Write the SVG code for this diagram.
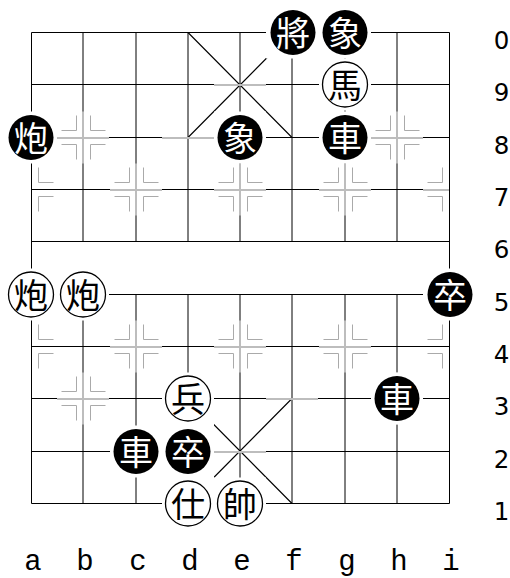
<svg xmlns="http://www.w3.org/2000/svg" width="510" height="578" viewBox="0 0 510 578">
<style>
.h{stroke:#000;stroke-width:1;fill:none}
.v{stroke:#000;stroke-width:1;fill:none}
.e{stroke:#000;stroke-width:1;fill:none}
.d{stroke:#000;stroke-width:1.1;fill:none}
.mk{stroke:#aaa;stroke-width:1;fill:none}
.gr{fill:#bdbdbd}
.tile{fill:#fff}
.bp circle{fill:#000}
.bp text{fill:#fff}
.wp circle{fill:#fff;stroke:#000;stroke-width:1.3}
.wp text{fill:#000}
.pc{font-family:"Noto Sans CJK TC","Noto Sans CJK SC",sans-serif;font-size:34px;text-anchor:middle}
.rk{font-family:"DejaVu Sans",sans-serif;font-size:24.5px;text-anchor:middle;fill:#000}
.fl{font-family:"Liberation Mono",monospace;font-size:29px;text-anchor:middle;fill:#000}
</style>
<rect width="510" height="578" fill="#fff"/>
<g id="board">
<path class="h" d="M31.5 32.5H449.5M31.5 84.5H449.5M31.5 137.5H449.5M31.5 189.5H449.5M31.5 241.5H449.5M31.5 294.5H449.5M31.5 346.5H449.5M31.5 398.5H449.5M31.5 451.5H449.5M31.5 503.5H449.5"/>
<path class="e" d="M31.5 32.5V503.5M449.5 32.5V503.5"/>
<path class="v" d="M83 32.5V241.5M136 32.5V241.5M188 32.5V241.5M240 32.5V241.5M292 32.5V241.5M345 32.5V241.5M397 32.5V241.5M83 294.5V503.5M136 294.5V503.5M188 294.5V503.5M240 294.5V503.5M292 294.5V503.5M345 294.5V503.5M397 294.5V503.5"/>
<path class="d" d="M188 32.5L292 137.5M292 32.5L188 137.5M188 398.5L292 503.5M292 398.5L188 503.5"/>
<g id="palace-gray">
<rect class="gr" x="214" y="84" width="52" height="2"/>
<rect class="gr" x="162" y="137" width="52" height="2"/>
<rect class="gr" x="214" y="451" width="52" height="2"/>
<rect class="gr" x="266" y="398" width="52" height="2"/>
</g>
<g id="markers">
<rect class="gr" x="57" y="137" width="52" height="2"/><rect class="gr" x="82" y="111.5" width="2" height="52"/>
<rect class="gr" x="371" y="137" width="52" height="2"/><rect class="gr" x="396" y="111.5" width="2" height="52"/>
<rect class="gr" x="110" y="189" width="52" height="2"/><rect class="gr" x="135" y="163.5" width="2" height="52"/>
<rect class="gr" x="214" y="189" width="52" height="2"/><rect class="gr" x="239" y="163.5" width="2" height="52"/>
<rect class="gr" x="319" y="189" width="52" height="2"/><rect class="gr" x="344" y="163.5" width="2" height="52"/>
<rect class="gr" x="423" y="189" width="26" height="2"/>
<rect class="gr" x="110" y="346" width="52" height="2"/><rect class="gr" x="135" y="320.5" width="2" height="52"/>
<rect class="gr" x="214" y="346" width="52" height="2"/><rect class="gr" x="239" y="320.5" width="2" height="52"/>
<rect class="gr" x="319" y="346" width="52" height="2"/><rect class="gr" x="344" y="320.5" width="2" height="52"/>
<rect class="gr" x="57" y="398" width="52" height="2"/><rect class="gr" x="82" y="372.5" width="2" height="52"/>
<rect class="gr" x="371" y="398" width="52" height="2"/><rect class="gr" x="396" y="372.5" width="2" height="52"/>
<path class="mk" d="M76.5 115.5V130.5H61.5M76.5 159.5V144.5H61.5M90.5 115.5V130.5H105.5M90.5 159.5V144.5H105.5"/>
<path class="mk" d="M390.5 115.5V130.5H375.5M390.5 159.5V144.5H375.5M404.5 115.5V130.5H419.5M404.5 159.5V144.5H419.5"/>
<path class="mk" d="M38.5 167.5V182.5H53.5M38.5 211.5V196.5H53.5"/>
<path class="mk" d="M129.5 167.5V182.5H114.5M129.5 211.5V196.5H114.5M143.5 167.5V182.5H158.5M143.5 211.5V196.5H158.5"/>
<path class="mk" d="M233.5 167.5V182.5H218.5M233.5 211.5V196.5H218.5M247.5 167.5V182.5H262.5M247.5 211.5V196.5H262.5"/>
<path class="mk" d="M338.5 167.5V182.5H323.5M338.5 211.5V196.5H323.5M352.5 167.5V182.5H367.5M352.5 211.5V196.5H367.5"/>
<path class="mk" d="M442.5 167.5V182.5H427.5M442.5 211.5V196.5H427.5"/>
<path class="mk" d="M38.5 324.5V339.5H53.5M38.5 368.5V353.5H53.5"/>
<path class="mk" d="M129.5 324.5V339.5H114.5M129.5 368.5V353.5H114.5M143.5 324.5V339.5H158.5M143.5 368.5V353.5H158.5"/>
<path class="mk" d="M233.5 324.5V339.5H218.5M233.5 368.5V353.5H218.5M247.5 324.5V339.5H262.5M247.5 368.5V353.5H262.5"/>
<path class="mk" d="M338.5 324.5V339.5H323.5M338.5 368.5V353.5H323.5M352.5 324.5V339.5H367.5M352.5 368.5V353.5H367.5"/>
<path class="mk" d="M442.5 324.5V339.5H427.5M442.5 368.5V353.5H427.5"/>
<path class="mk" d="M76.5 376.5V391.5H61.5M76.5 420.5V405.5H61.5M90.5 376.5V391.5H105.5M90.5 420.5V405.5H105.5"/>
</g>
</g>
<g id="tiles">
<rect class="tile" x="266" y="6.5" width="105" height="52"/>
<rect class="tile" x="319" y="58.5" width="52" height="52"/>
<rect class="tile" x="5" y="111.5" width="52" height="52"/>
<rect class="tile" x="214" y="111.5" width="52" height="52"/>
<rect class="tile" x="319" y="111.5" width="52" height="52"/>
<rect class="tile" x="5" y="268.5" width="104" height="52"/>
<rect class="tile" x="423" y="268.5" width="52" height="52"/>
<rect class="tile" x="371" y="372.5" width="52" height="52"/>
<rect class="tile" x="162" y="372.5" width="52" height="156"/>
<rect class="tile" x="110" y="425.5" width="52" height="52"/>
<rect class="tile" x="214" y="477.5" width="52" height="52"/>
</g>
<g id="p-f0" class="bp"><circle cx="293" cy="32.5" r="22.5"/><text class="pc" x="293" y="45.5">將</text></g>
<g id="p-g0" class="bp"><circle cx="345" cy="32.5" r="22.5"/><text class="pc" x="345" y="45.5">象</text></g>
<g id="p-g9" class="wp"><circle cx="345" cy="84.5" r="22.5"/><text class="pc" x="345" y="97.5">馬</text></g>
<g id="p-a8" class="bp"><circle cx="31" cy="137.5" r="22.5"/><text class="pc" x="31" y="150.5">炮</text></g>
<g id="p-e8" class="bp"><circle cx="240" cy="137.5" r="22.5"/><text class="pc" x="240" y="150.5">象</text></g>
<g id="p-g8" class="bp"><circle cx="345" cy="137.5" r="22.5"/><text class="pc" x="345" y="150.5">車</text></g>
<g id="p-a5" class="wp"><circle cx="31" cy="294.5" r="22.5"/><text class="pc" x="31" y="307.5">炮</text></g>
<g id="p-b5" class="wp"><circle cx="83" cy="294.5" r="22.5"/><text class="pc" x="83" y="307.5">炮</text></g>
<g id="p-i5" class="bp"><circle cx="450" cy="294.5" r="22.5"/><text class="pc" x="450" y="307.5">卒</text></g>
<g id="p-d3" class="wp"><circle cx="188" cy="398.5" r="22.5"/><text class="pc" x="188" y="411.5">兵</text></g>
<g id="p-h3" class="bp"><circle cx="397" cy="398.5" r="22.5"/><text class="pc" x="397" y="411.5">車</text></g>
<g id="p-c2" class="bp"><circle cx="136" cy="451.5" r="22.5"/><text class="pc" x="136" y="464.5">車</text></g>
<g id="p-d2" class="bp"><circle cx="188" cy="451.5" r="22.5"/><text class="pc" x="188" y="464.5">卒</text></g>
<g id="p-d1" class="wp"><circle cx="188" cy="503.5" r="22.5"/><text class="pc" x="188" y="516.5">仕</text></g>
<g id="p-e1" class="wp"><circle cx="240" cy="503.5" r="22.5"/><text class="pc" x="240" y="516.5">帥</text></g>
<g id="ranks">
<text class="rk" x="501.5" y="49">0</text>
<text class="rk" x="501.5" y="101.3">9</text>
<text class="rk" x="501.5" y="153.6">8</text>
<text class="rk" x="501.5" y="206">7</text>
<text class="rk" x="501.5" y="258.3">6</text>
<text class="rk" x="501.5" y="310.6">5</text>
<text class="rk" x="501.5" y="363">4</text>
<text class="rk" x="501.5" y="415.3">3</text>
<text class="rk" x="501.5" y="467.6">2</text>
<text class="rk" x="501.5" y="520">1</text>
</g>
<g id="files">
<text class="fl" x="33" y="570">a</text>
<text class="fl" x="85" y="570">b</text>
<text class="fl" x="138" y="570">c</text>
<text class="fl" x="190" y="570">d</text>
<text class="fl" x="242" y="570">e</text>
<text class="fl" x="294" y="570">f</text>
<text class="fl" x="347" y="570">g</text>
<text class="fl" x="399" y="570">h</text>
<text class="fl" x="451" y="570">i</text>
</g>
</svg>
